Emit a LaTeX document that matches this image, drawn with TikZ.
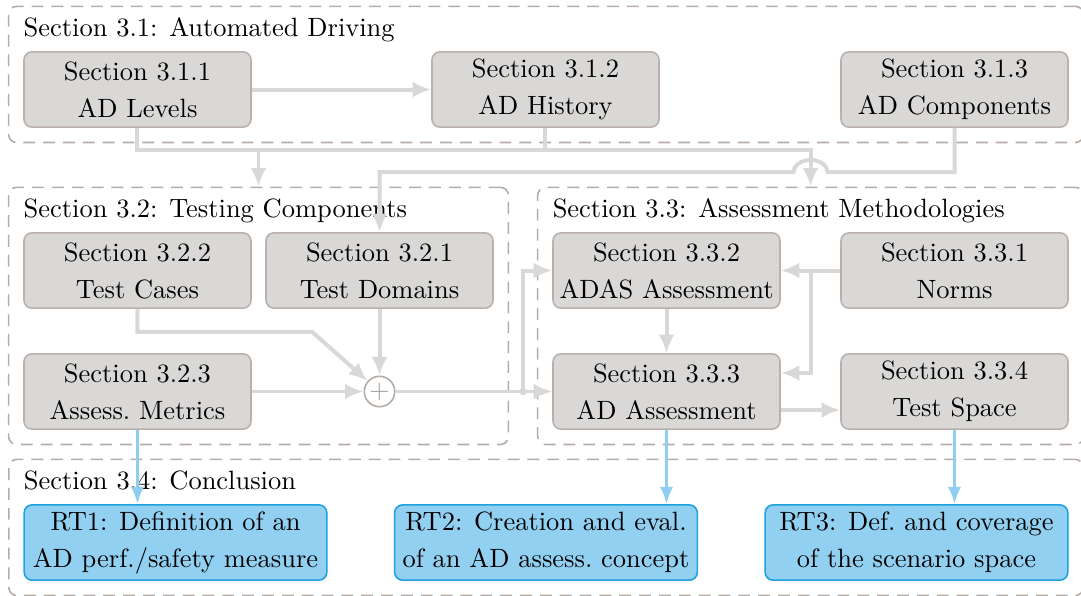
\documentclass[tikz,border=0pt]{standalone}
\usetikzlibrary{arrows.meta,fit,calc}

\definecolor{boxfill}{HTML}{D9D8D7}
\definecolor{boxline}{HTML}{BAB1AC}
\definecolor{linkgray}{HTML}{D8D8D8}
\definecolor{framegray}{HTML}{B5ACA7}
\definecolor{plusgray}{HTML}{A89F9A}
\definecolor{rtfill}{HTML}{92D0F2}
\definecolor{rtline}{HTML}{1FA0DF}
\definecolor{rtlink}{HTML}{8FCEF0}

\begin{document}
\begin{tikzpicture}
      [
      section/.style={rectangle,rounded corners=3pt,draw=boxline,fill=boxfill,line width=0.6pt,minimum width=3.015cm,minimum height=1cm,inner sep=1pt,align=center,execute at begin node=\setlength{\baselineskip}{14pt}},
      target/.style={section,draw=rtline,fill=rtfill,minimum width=4.02cm},
      title/.style={inner sep=0pt,anchor=base west,text height=5.5pt},
      frame/.style={draw=framegray,line width=0.6pt,dash pattern=on 4.5pt off 3pt,rounded corners=3pt,inner sep=5.5pt},
      adder/.style={circle,draw=framegray,line width=0.6pt,fill=white,text=plusgray,inner sep=0pt,minimum size=11.5pt},
      wire/.style={draw=linkgray,line width=1.5pt},
      link/.style={wire,-{Latex[length=7pt,width=6pt]}},
      result/.style={draw=rtlink,line width=1.1pt,-{Latex[length=6.5pt,width=5pt]}}
      ]
      \useasboundingbox (0,0) rectangle (14.358,-7.916);
      % Section 3.1
      \node (n311) at (1.826,-1.189) [section] {Section 3.1.1\\AD Levels};
      \node (n312) at (7.245,-1.189) [section] {Section 3.1.2\\AD History};
      \node (n313) at (12.678,-1.189) [section] {Section 3.1.3\\AD Components};
      % Section 3.2
      \node (n322) at (1.826,-3.593) [section] {Section 3.2.2\\Test Cases};
      \node (n321) at (5.041,-3.593) [section] {Section 3.2.1\\Test Domains};
      \node (n323) at (1.826,-5.200) [section] {Section 3.2.3\\Assess.\ Metrics};
      \node (plus) at (n321 |- n323) [adder] {$+$};
      % Section 3.3
      \node (n332) at (8.853,-3.593) [section] {Section 3.3.2\\ADAS Assessment};
      \node (n331) at (12.678,-3.593) [section] {Section 3.3.1\\Norms};
      \node (n333) at (8.853,-5.200) [section] {Section 3.3.3\\AD Assessment};
      \node (n334) at (12.678,-5.200) [section] {Section 3.3.4\\Test Space};
      % Section 3.4
      \node (rt1) at (2.331,-7.206) [target] {RT1: Definition of an\\AD perf./safety measure};
      \node (rt2) at (7.252,-7.206) [target] {RT2: Creation and eval.\\of an AD assess.\ concept};
      \node (rt3) at (12.173,-7.206) [target] {RT3: Def.\ and coverage\\of the scenario space};
      % frames
      \node (t31) at ([yshift=0.2cm]n311.north west) [title] {Section 3.1: Automated Driving};
      \node (t32) at ([yshift=0.2cm]n322.north west) [title] {Section 3.2: Testing Components};
      \node (t33) at ([yshift=0.2cm]n332.north west) [title] {Section 3.3: Assessment Methodologies};
      \node (t34) at ([yshift=0.2cm]rt1.north west) [title] {Section 3.4: Conclusion};
      \node (f31) [frame,fit=(t31)(n311)(n313)] {};
      \node (f32) [frame,fit=(t32)(n322)(n321)(n323)] {};
      \node (f33) [frame,fit=(t33)(n332)(n331)(n334)] {};
      \node (f34) [frame,fit=(t34)(rt1)(rt3)] {};
      % connectors
      \coordinate (bus) at (0,-1.992);
      \coordinate (lane) at (0,-2.285);
      \coordinate (gap) at ($(f32.east)!0.5!(f33.west)$);
      \coordinate (junc) at (gap |- plus);
      \coordinate (split) at ($(n332.east)!0.5!(n331.west)$);
      \draw [link] (n311.east) -- (n312.west);
      \draw [link] (n311.south) -- (n311.south |- bus) -| (f33.north);
      \draw [link] (f32.north |- bus) -- (f32.north);
      \draw [wire] (n312.south) -- (n312.south |- bus);
      \draw [link] (n313.south) -- (n313.south |- lane) -- ([xshift=0.226cm]f33.north |- lane)
            arc[start angle=0,end angle=180,x radius=0.226cm,y radius=0.16cm] -- (n321.north |- lane) -- (n321.north);
      \draw [link] (n322.south) -- ++(0,-0.303) -- ++(2.318,0) -- (plus);
      \draw [link] (n321.south) -- (plus);
      \draw [link] (n323.east) -- (plus);
      \draw [link] (plus) -- (n333.west);
      \draw [link] (junc) |- (n332.west);
      \fill [linkgray] (junc) circle (1.4pt);
      \draw [link] (n331.west) -- (n332.east);
      \draw [link] (split) |- ([yshift=0.246cm]n333.east);
      \draw [link] (n332.south) -- (n333.north);
      \draw [link] ([yshift=-0.246cm]n333.east) -- ([yshift=-0.246cm]n334.west);
      \draw [result] (n323.south) -- (n323.south |- rt1.north);
      \draw [result] (n333.south) -- (n333.south |- rt2.north);
      \draw [result] (n334.south) -- (n334.south |- rt3.north);
    \end{tikzpicture}
\end{document}
